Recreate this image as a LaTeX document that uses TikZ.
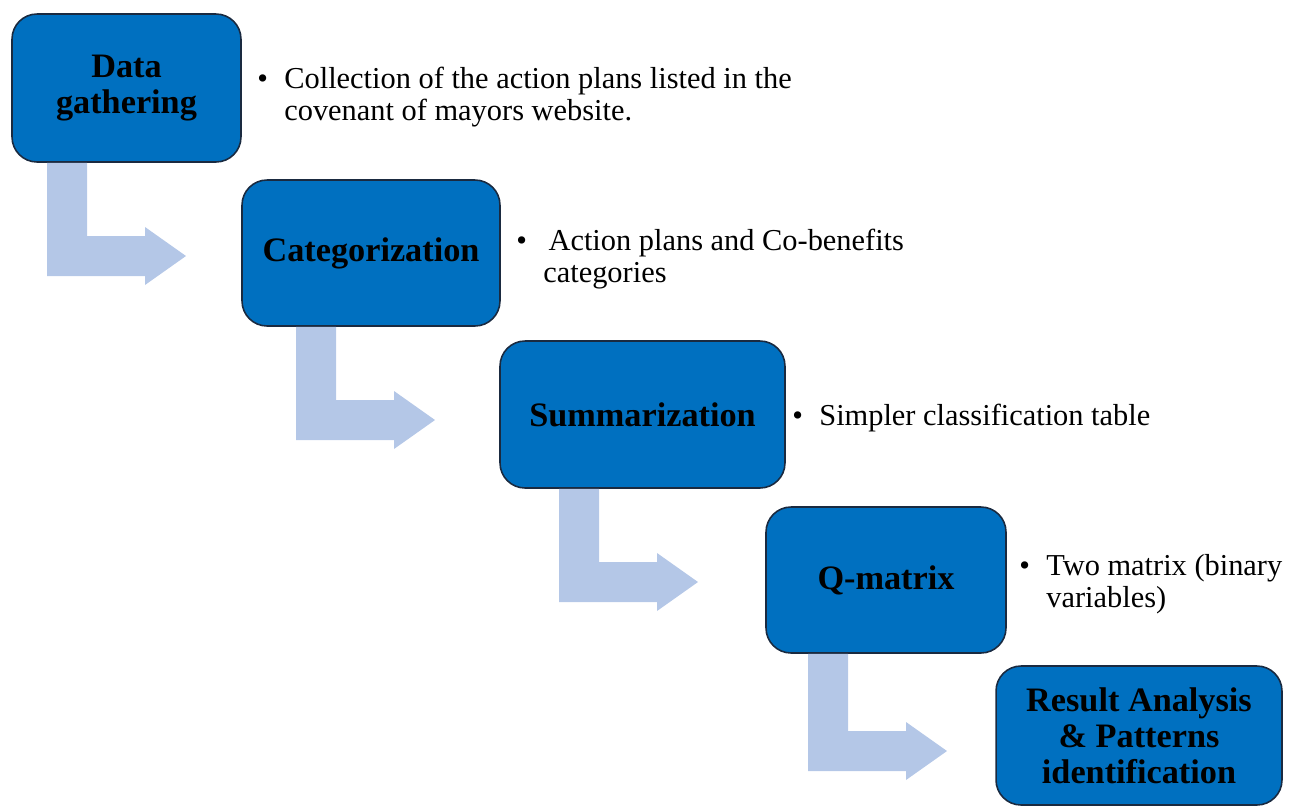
\documentclass[tikz,border=0pt]{standalone}
\usepackage{fontspec}
\setmainfont{Liberation Serif}
\usepackage{xcolor}
\usetikzlibrary{calc}
\definecolor{stageBlue}{HTML}{0070C0}
\definecolor{stageEdge}{HTML}{1A2A40}
\definecolor{bendBlue}{HTML}{B4C7E7}
\newcommand{\bulletitem}[1]{\makebox[0.54cm][l]{\textbullet}\begin{tabular}[t]{@{}l@{}}#1\end{tabular}}

\begin{document}
\begin{tikzpicture}[x=0.02cm,y=-0.02cm,
  stagebox/.style={draw=stageEdge,line width=0.9pt,fill=stageBlue,rounded corners=0.5cm,
    align=center,inner sep=2pt,font=\fontsize{19.5}{20.6}\selectfont\bfseries},
  bendfill/.style={fill=bendBlue},
  notetext/.style={anchor=base west,inner sep=0pt,font=\fontsize{17.3}{18.3}\selectfont}]
\useasboundingbox (0,0) rectangle (1298,806);
% the five stages
\node[stagebox,minimum width=4.58cm,minimum height=2.96cm] (data) at (126.5,88) {Data\\gathering};
\node[stagebox,minimum width=5.16cm,minimum height=2.92cm] (categ) at (371,253) {Categorization};
\node[stagebox,minimum width=5.70cm,minimum height=2.94cm] (summ) at (642.5,414.5) {Summarization};
\node[stagebox,minimum width=4.80cm,minimum height=2.92cm] (qmat) at (886,580) {Q-matrix};
\node[stagebox,minimum width=5.72cm,minimum height=2.78cm] (result) at (1139,735.5) {Result Analysis\\\& Patterns\\identification};
% bent arrows between the stages
\foreach \a/\x/\y in {data/47/236, categ/296/400, summ/559/562, qmat/808/731}{
  \fill[bendfill] (\x,0 |- \a.south) -- (\x+40,0 |- \a.south) -- (\x+40,\y) -- (\x+98,\y)
    -- (\x+98,\y-9) -- (\x+139,\y+20) -- (\x+98,\y+49) -- (\x+98,\y+40) -- (\x,\y+40) -- cycle;
}
% notes beside the stages
\node[notetext] (datanote) at (257,88) {\bulletitem{Collection of the action plans listed in the\\covenant of mayors website.}};
\node[notetext] (categnote) at (516,250) {\bulletitem{\hspace{3pt}Action plans and Co-benefits\\categories}};
\node[notetext] (summnote) at (792,425) {\bulletitem{Simpler classification table}};
\node[notetext] (qmatnote) at (1019,575) {\bulletitem{Two matrix (binary\\variables)}};
\end{tikzpicture}
\end{document}
